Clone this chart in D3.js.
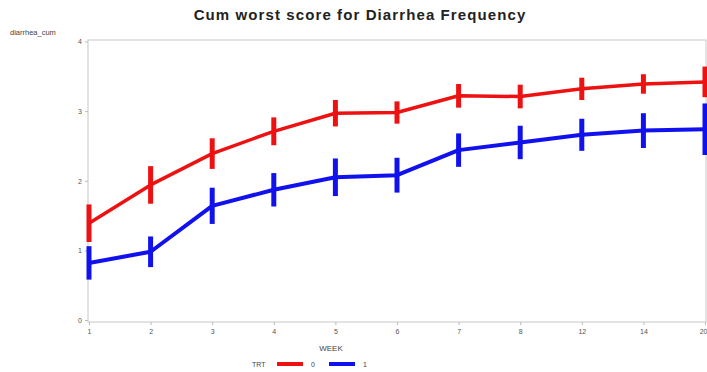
<!DOCTYPE html>
<html>
<head>
<meta charset="utf-8">
<script src="https://cdn.jsdelivr.net/npm/d3@7"></script>
<style>
  body { margin: 0; background: #fff; }
  text { font-family: "Liberation Sans", Arial, sans-serif; }
</style>
</head>
<body>
<div class="canvas"></div>
<script>
// data
const weeks = ['1', '2', '3', '4', '5', '6', '7', '8', '12', '14', '20'];
const trt0 = [1.39, 1.94, 2.39, 2.71, 2.97, 2.98, 3.22, 3.21, 3.32, 3.39, 3.42];
const trt0Err = [0.27, 0.27, 0.22, 0.20, 0.19, 0.16, 0.17, 0.17, 0.16, 0.14, 0.22];
const trt1 = [0.82, 0.98, 1.64, 1.87, 2.05, 2.08, 2.44, 2.55, 2.66, 2.72, 2.74];
const trt1Err = [0.24, 0.22, 0.26, 0.24, 0.27, 0.25, 0.24, 0.24, 0.23, 0.25, 0.37];
const yTicks = [0, 1, 2, 3, 4];

const dims = { width: 707, height: 372 };
const plot = { left: 88, right: 706, top: 40, bottom: 322 };

const svg = d3.select('.canvas')
  .append('svg')
  .attr('width', dims.width)
  .attr('height', dims.height);

const x = d3.scalePoint()
  .domain(weeks)
  .range([89, 705]);

const y = d3.scaleLinear()
  .domain([0, 4])
  .range([320, 41.5]);

// frame
svg.append('rect')
  .attr('x', plot.left)
  .attr('y', plot.top)
  .attr('width', plot.right - plot.left)
  .attr('height', plot.bottom - plot.top)
  .attr('fill', 'none')
  .attr('stroke', '#c8c8c8')
  .attr('stroke-width', 1);

// y axis
const yAxis = svg.append('g')
  .attr('transform', `translate(${plot.left}, 0)`)
  .call(d3.axisLeft(y).tickValues(yTicks).tickSize(3).tickFormat(d3.format('d')));
yAxis.select('.domain').remove();
yAxis.selectAll('line').attr('stroke', '#bbb');
yAxis.selectAll('text').attr('fill', '#555').attr('font-size', 7).attr('x', -6);

// x axis
const xAxis = svg.append('g')
  .attr('transform', `translate(0, ${plot.bottom})`)
  .call(d3.axisBottom(x).tickSize(3));
xAxis.select('.domain').remove();
xAxis.selectAll('line').attr('stroke', '#bbb');
xAxis.selectAll('text').attr('fill', '#555').attr('font-size', 7).attr('y', 7);
// last label sits on the right edge
xAxis.selectAll('text').filter(d => d === '20').attr('text-anchor', 'end').attr('dx', 2);

// titles
svg.append('text')
  .attr('x', 360).attr('y', 20)
  .attr('text-anchor', 'middle')
  .attr('font-family', '"DejaVu Sans", sans-serif')
  .attr('font-size', 15).attr('font-weight', 'bold')
  .attr('letter-spacing', 1.1)
  .attr('fill', '#222')
  .text('Cum worst score for Diarrhea Frequency');

svg.append('text')
  .attr('x', 10).attr('y', 35)
  .attr('font-size', 7.5).attr('fill', '#444')
  .text('diarrhea_cum');

svg.append('text')
  .attr('x', 331).attr('y', 351)
  .attr('text-anchor', 'middle')
  .attr('font-size', 8).attr('fill', '#444')
  .text('WEEK');

// series
const series = [
  { name: '0', vals: trt0, err: trt0Err, colour: '#ee1111', w: 3.5 },
  { name: '1', vals: trt1, err: trt1Err, colour: '#1111ee', w: 4 }
];

const line = d3.line()
  .x((d, i) => x(weeks[i]))
  .y(d => y(d));

series.forEach(s => {
  const g = svg.append('g');
  g.append('path')
    .datum(s.vals)
    .attr('d', line)
    .attr('fill', 'none')
    .attr('stroke', s.colour)
    .attr('stroke-width', s.w)
    .attr('stroke-linejoin', 'round');
  g.selectAll('.err')
    .data(s.vals)
    .enter()
    .append('line')
    .attr('class', 'err')
    .attr('x1', (d, i) => x(weeks[i]))
    .attr('x2', (d, i) => x(weeks[i]))
    .attr('y1', (d, i) => y(d - s.err[i]))
    .attr('y2', (d, i) => y(d + s.err[i]))
    .attr('stroke', s.colour)
    .attr('stroke-width', 5);
});

// legend
const legend = svg.append('g');
legend.append('text')
  .attr('x', 252).attr('y', 367)
  .attr('font-size', 7).attr('fill', '#444')
  .text('TRT');
const legX = [277, 329];
series.forEach((s, i) => {
  legend.append('line')
    .attr('x1', legX[i]).attr('x2', legX[i] + 26)
    .attr('y1', 364).attr('y2', 364)
    .attr('stroke', s.colour)
    .attr('stroke-width', 4);
  legend.append('text')
    .attr('x', legX[i] + 34).attr('y', 367)
    .attr('font-size', 7).attr('fill', '#444')
    .text(s.name);
});
</script>
</body>
</html>
